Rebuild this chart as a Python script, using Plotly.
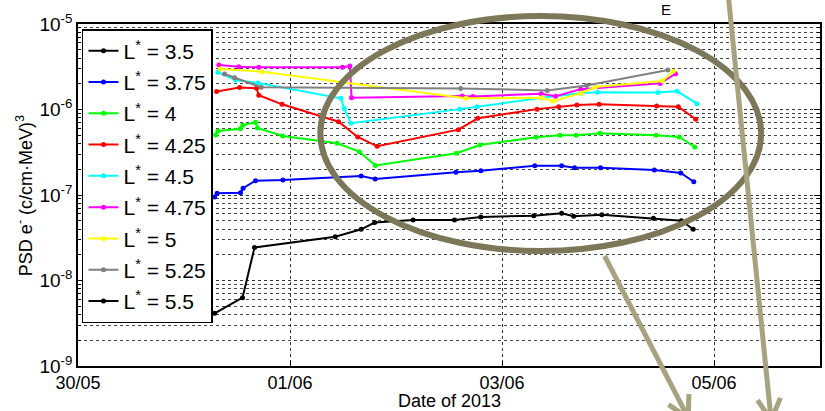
import math
import plotly.graph_objects as go

# ---- phase space density of electrons at fixed mu, K for each L* shell ----
l_star = [3.5, 3.75, 4, 4.25, 4.5, 4.75, 5, 5.25, 5.5]
colors = ["#000000", "#0000ff", "#00ff00", "#ff0000", "#00ffff",
          "#ff00ff", "#ffff00", "#808080", "#000000"]

t_350 = []
psd_350 = []

t_375 = ["2013-05-31 06:56", "2013-05-31 07:30", "2013-05-31 12:48", "2013-05-31 13:22",
         "2013-05-31 16:11", "2013-05-31 22:24", "2013-06-01 16:07", "2013-06-01 19:17",
         "2013-06-02 13:34", "2013-06-02 19:13", "2013-06-03 07:25", "2013-06-03 13:30",
         "2013-06-03 16:26", "2013-06-03 22:19", "2013-06-04 10:30", "2013-06-04 16:29",
         "2013-06-04 19:25"]
psd_375 = [9.5e-8, 1.05e-7, 1.06e-7, 1.20e-7, 1.47e-7, 1.50e-7, 1.67e-7, 1.54e-7,
           1.84e-7, 1.92e-7, 2.20e-7, 2.20e-7, 2.09e-7, 2.09e-7, 1.96e-7, 1.81e-7, 1.43e-7]

t_400 = ["2013-05-31 07:10", "2013-05-31 07:41", "2013-05-31 12:44", "2013-05-31 13:19",
         "2013-05-31 16:11", "2013-05-31 16:38", "2013-05-31 22:21", "2013-06-01 10:42",
         "2013-06-01 15:40", "2013-06-01 19:21", "2013-06-02 13:41", "2013-06-02 18:59",
         "2013-06-03 07:45", "2013-06-03 13:10", "2013-06-03 16:47", "2013-06-03 22:12",
         "2013-06-04 10:53", "2013-06-04 16:09", "2013-06-04 19:39"]
psd_400 = [5.03e-7, 5.61e-7, 5.96e-7, 6.55e-7, 7.10e-7, 6.08e-7, 4.90e-7, 4.03e-7,
           3.21e-7, 2.22e-7, 3.08e-7, 3.85e-7, 4.73e-7, 4.99e-7, 5.00e-7, 5.27e-7,
           5.00e-7, 4.77e-7, 3.64e-7]

t_425 = ["2013-05-31 07:23", "2013-05-31 12:35", "2013-05-31 16:25", "2013-05-31 16:56",
         "2013-05-31 22:13", "2013-06-01 11:00", "2013-06-01 15:20", "2013-06-01 19:44",
         "2013-06-02 14:08", "2013-06-02 18:32", "2013-06-03 07:56", "2013-06-03 12:50",
         "2013-06-03 16:58", "2013-06-03 21:58", "2013-06-04 11:01", "2013-06-04 15:55",
         "2013-06-04 19:52"]
psd_425 = [1.62e-6, 1.81e-6, 1.77e-6, 1.47e-6, 1.15e-6, 7.20e-7, 4.77e-7, 3.71e-7,
           5.81e-7, 7.89e-7, 1.01e-6, 1.08e-6, 1.13e-6, 1.15e-6, 1.10e-6, 1.08e-6, 7.70e-7]

t_450 = ["2013-05-31 07:41", "2013-05-31 11:40", "2013-05-31 16:49", "2013-06-01 11:32",
         "2013-06-01 12:17", "2013-06-01 13:48", "2013-06-02 14:28", "2013-06-02 18:23",
         "2013-06-03 09:04", "2013-06-03 17:44", "2013-06-03 21:38", "2013-06-04 11:20",
         "2013-06-04 15:38", "2013-06-04 20:08"]
psd_450 = [2.72e-6, 2.21e-6, 2.04e-6, 1.35e-6, 1.03e-6, 6.90e-7, 1.01e-6, 1.08e-6,
           1.37e-6, 1.55e-6, 1.59e-6, 1.58e-6, 1.64e-6, 1.17e-6]

t_475 = ["2013-05-31 07:54", "2013-05-31 12:25", "2013-05-31 16:56", "2013-06-01 11:54",
         "2013-06-01 13:34", "2013-06-01 13:56", "2013-06-02 15:00", "2013-06-02 17:25",
         "2013-06-03 08:53", "2013-06-03 12:09", "2013-06-03 17:50", "2013-06-04 11:51",
         "2013-06-04 15:17"]
psd_475 = [3.31e-6, 3.17e-6, 3.12e-6, 3.12e-6, 3.23e-6, 1.37e-6, 1.44e-6, 1.42e-6,
           1.53e-6, 1.43e-6, 1.73e-6, 2.02e-6, 2.62e-6]

t_500 = ["2013-05-31 08:13", "2013-05-31 17:42", "2013-06-02 15:50", "2013-06-03 09:04",
         "2013-06-03 11:32", "2013-06-03 17:52", "2013-06-03 21:07", "2013-06-04 12:19",
         "2013-06-04 14:47"]
psd_500 = [2.98e-6, 2.77e-6, 1.35e-6, 1.37e-6, 1.25e-6, 1.55e-6, 1.83e-6, 2.15e-6, 2.81e-6]

t_525 = ["2013-05-31 09:11", "2013-05-31 11:27", "2013-05-31 17:29", "2013-06-02 14:38",
         "2013-06-03 10:14", "2013-06-03 19:09", "2013-06-04 13:33"]
psd_525 = [2.60e-6, 2.35e-6, 1.82e-6, 1.76e-6, 1.67e-6, 1.91e-6, 2.90e-6]

t_550 = ["2013-05-31 06:56", "2013-05-31 13:15", "2013-05-31 15:58", "2013-06-01 10:15",
         "2013-06-01 16:07", "2013-06-01 19:10", "2013-06-02 03:52", "2013-06-02 13:14",
         "2013-06-02 19:13", "2013-06-03 07:11", "2013-06-03 13:30", "2013-06-03 16:13",
         "2013-06-03 22:36", "2013-06-04 10:17", "2013-06-04 16:36", "2013-06-04 19:18"]
psd_550 = [4.13e-9, 6.3e-9, 2.43e-8, 3.25e-8, 3.97e-8, 4.77e-8, 5.1e-8, 5.1e-8,
           5.53e-8, 5.73e-8, 6.1e-8, 5.63e-8, 5.88e-8, 5.33e-8, 4.99e-8, 3.97e-8]

times = [t_350, t_375, t_400, t_425, t_450, t_475, t_500, t_525, t_550]
psds = [psd_350, psd_375, psd_400, psd_425, psd_450, psd_475, psd_500, psd_525, psd_550]

y_tick_vals = [1e-9, 1e-8, 1e-7, 1e-6, 1e-5]
y_tick_text = ["10<sup>-9</sup>", "10<sup>-8</sup>", "10<sup>-7</sup>",
               "10<sup>-6</sup>", "10<sup>-5</sup>"]
x_tick_vals = ["2013-05-30", "2013-06-01", "2013-06-03", "2013-06-05"]
x_tick_text = ["30/05", "01/06", "03/06", "05/06"]

FONT = "Liberation Sans, Arial, sans-serif"

fig = go.Figure()
for i, (L, col, t, p) in enumerate(zip(l_star, colors, times, psds)):
    # a shell without samples still gets its legend entry
    xs = t if t else [None]
    ys = p if p else [None]
    fig.add_trace(go.Scatter(
        x=xs, y=ys, mode="lines+markers",
        name=f"L<sup>*</sup> = {L:g}",
        legendgroup=f"g{i}",
        line=dict(color=col, width=2),
        marker=dict(color=col, size=5),
    ))

# figure geometry in pixels (used for the hand-drawn overlay)
W, H = 825, 411
ML, MR, MT, MB = 78, 3, 24, 45
PW, PH = W - ML - MR, H - MT - MB


def px(xp):
    return (xp - ML) / PW


def py(yp):
    return (H - MB - yp) / PH


shapes = []
# highlight ellipse
shapes.append(dict(type="circle", xref="paper", yref="paper", layer="above",
                   x0=px(321), x1=px(763), y0=py(16), y1=py(251),
                   line=dict(color="#7c7759", width=6)))


def arrow(x0, y0, x1, y1, color="#a7a27f", width=5, head=24, spread=0.5):
    out = [dict(type="line", xref="paper", yref="paper", layer="above",
                x0=px(x0), y0=py(y0), x1=px(x1), y1=py(y1),
                line=dict(color=color, width=width))]
    ang = math.atan2(y1 - y0, x1 - x0)
    for s in (-spread, spread):
        a = ang + math.pi + s
        out.append(dict(type="line", xref="paper", yref="paper", layer="above",
                        x0=px(x1), y0=py(y1),
                        x1=px(x1 + head * math.cos(a)), y1=py(y1 + head * math.sin(a)),
                        line=dict(color=color, width=width)))
    return out


shapes += arrow(606, 256, 690, 418)
shapes += arrow(730, -5, 773, 420)

annotations = [
    dict(text="E", x=px(668), y=py(10), xref="paper", yref="paper",
         xanchor="center", yanchor="middle",
         showarrow=False, font=dict(size=15, color="black")),
    dict(text="Date of 2013", x=px(450), y=py(401), xref="paper", yref="paper",
         xanchor="center", yanchor="middle",
         showarrow=False, font=dict(size=18, color="black")),
    dict(text="PSD e<sup>-</sup> (c/cm·MeV)<sup>3</sup>", x=px(24), y=py(196),
         xref="paper", yref="paper", textangle=-90,
         xanchor="center", yanchor="middle",
         showarrow=False, font=dict(size=18, color="black")),
]

fig.update_layout(
    width=W, height=H,
    margin=dict(l=ML, r=MR, t=MT, b=MB),
    paper_bgcolor="white", plot_bgcolor="white",
    font=dict(family=FONT, size=18, color="black"),
    showlegend=True,
    legend=dict(
        x=px(82), y=py(29), xanchor="left", yanchor="top",
        bgcolor="white", bordercolor="black", borderwidth=1.5,
        font=dict(family=FONT, size=21, color="black"),
        itemwidth=30, tracegroupgap=1, traceorder="grouped",
    ),
    shapes=shapes,
    annotations=annotations,
)

fig.update_xaxes(
    type="date", range=["2013-05-30", "2013-06-06"],
    tickvals=x_tick_vals, ticktext=x_tick_text,
    ticks="inside", ticklen=5, tickcolor="black",
    showline=True, linecolor="black", linewidth=1.5, mirror="allticks",
    showgrid=True, gridcolor="#333", griddash="dot", gridwidth=1,
    zeroline=False,
    tickfont=dict(size=18),
)

fig.update_yaxes(
    type="log", range=[-9, -5],
    tickvals=y_tick_vals, ticktext=y_tick_text,
    ticks="inside", ticklen=6, tickcolor="black",
    showline=True, linecolor="black", linewidth=1.5, mirror="allticks",
    showgrid=True, gridcolor="#333", griddash="dot", gridwidth=1,
    zeroline=False,
    tickfont=dict(size=19),
    minor=dict(dtick="D1", ticks="inside", ticklen=3, tickcolor="black",
               showgrid=True, gridcolor="#444", griddash="dot", gridwidth=1),
)

fig.write_html("out.html")
